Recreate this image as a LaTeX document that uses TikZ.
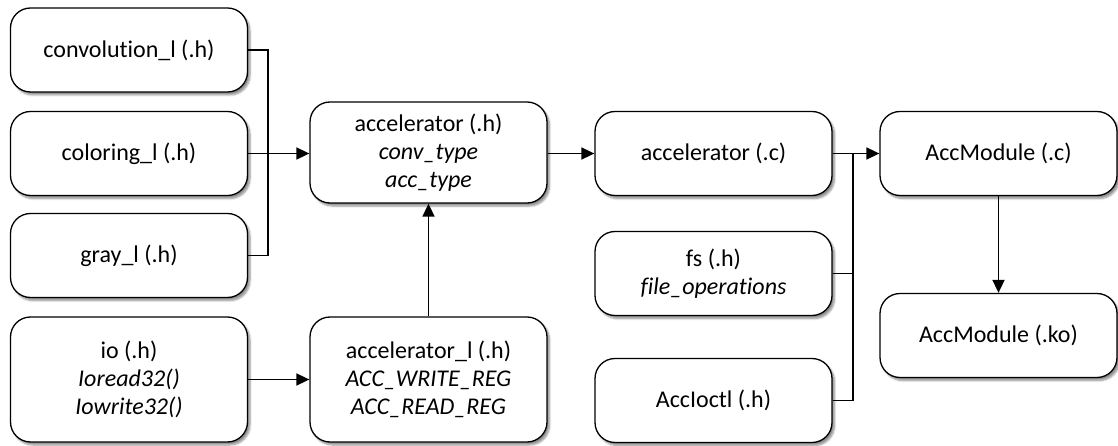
\documentclass[tikz,border=0pt]{standalone}
\usepackage{fontspec}
\setmainfont{Carlito}[RawFeature={-liga;-clig;-dlig}]
\usetikzlibrary{arrows.meta,shadows.blur}
\begin{document}
\begin{tikzpicture}[x=1pt,y=-1pt,
  box/.style={draw=black, line width=1.3pt, fill=white, rounded corners=20pt,
    minimum width=237pt, minimum height=84pt, align=center, inner sep=0pt,
    font=\fontsize{24}{28}\selectfont,
    blur shadow={shadow xshift=2.5pt, shadow yshift=-3pt, shadow blur steps=6, shadow opacity=45}},
  tall/.style={minimum height=125pt},
  link/.style={line width=1.7pt},
  arr/.style={link, -{Triangle[length=13pt,width=12pt]}}]
\useasboundingbox (0,0) rectangle (1118,446);

% left column: headers
\node[box] (conv) at (129,50) {convolution\_l (.h)};
\node[box] (color) at (129,153.5) {coloring\_l (.h)};
\node[box] (gray) at (129,255.5) {gray\_l (.h)};
\node[box,tall] (io) at (129,379.5) {io (.h)\\\textit{Ioread32()}\\\textit{Iowrite32()}};

% second column
\node[box,minimum height=101pt] (acch) at (428.5,152.5) {accelerator (.h)\\\textit{conv\_type}\\\textit{acc\_type}};
\node[box,tall] (accl) at (428.5,379.5) {accelerator\_l (.h)\\\textit{ACC\_WRITE\_REG}\\\textit{ACC\_READ\_REG}};

% third column
\node[box] (accc) at (713.5,153.5) {accelerator (.c)};
\node[box] (fs) at (713.5,273.5) {fs (.h)\\\textit{file\_operations}};
\node[box] (ioctl) at (713.5,400.5) {AccIoctl (.h)};

% fourth column
\node[box] (modc) at (998.5,153.5) {AccModule (.c)};
\node[box] (modko) at (998.5,335.5) {AccModule (.ko)};

% merge points
\coordinate (j1) at (268,153.5);
\coordinate (j2) at (853,153.5);

% left bus into accelerator (.h)
\draw[link] (conv.east) -| (j1);
\draw[link] (gray.east) -| (j1);
\draw[link] (color.east) -- (j1);
\draw[arr] (j1) -- (acch.west |- j1);

\draw[arr] (io.east) -- (accl.west);
\draw[arr] (accl.north) -- (acch.south);
\draw[arr] (acch.east |- accc.west) -- (accc.west);

% right bus into AccModule (.c)
\draw[link] (accc.east) -- (j2);
\draw[link] (fs.east) -| (j2);
\draw[link] (ioctl.east) -| (j2);
\draw[arr] (j2) -- (modc.west);

\draw[arr] (modc.south) -- (modko.north);
\end{tikzpicture}
\end{document}
